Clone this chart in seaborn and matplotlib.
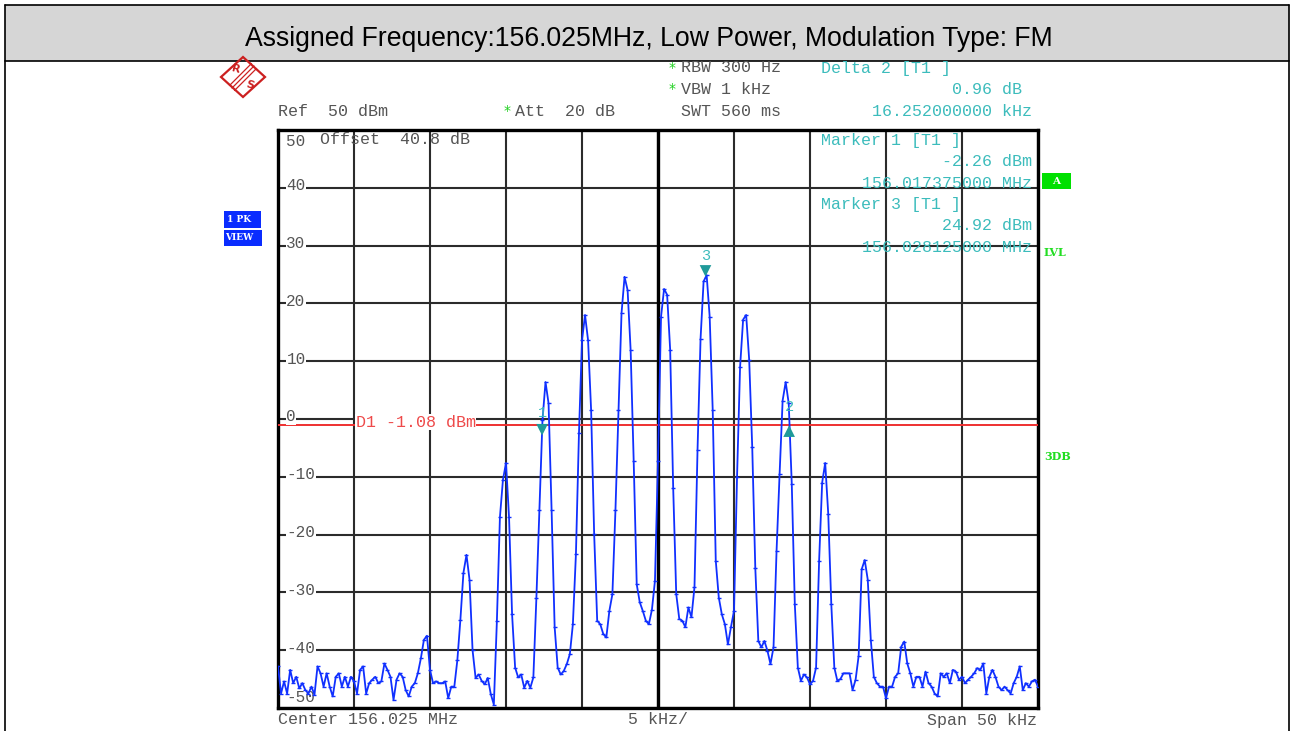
import numpy as np
import pandas as pd
import seaborn as sns
import matplotlib.pyplot as plt
from matplotlib.patches import Polygon, Rectangle

# sweep: 251 points from -25 to +25 kHz around the center
center_mhz = 156.025
span_khz = 50
trace_dbm = [
    -42.8, -47.5, -45.4, -47.5, -43.4, -45.7, -44.6, -46.6, -45.7, -46.9,
    -47.5, -46.3, -47.7, -42.8, -44.0, -46.3, -44.0, -46.3, -48.0, -44.6,
    -44.0, -46.3, -44.6, -46.3, -44.6, -45.4, -47.5, -43.4, -42.8, -47.5,
    -45.7, -45.1, -44.6, -45.7, -45.4, -42.3, -43.4, -44.6, -48.6, -45.1,
    -44.0, -44.6, -46.9, -48.0, -46.3, -45.7, -44.0, -41.4, -38.2, -37.5,
    -43.4, -45.7, -45.4, -45.7, -45.7, -45.4, -48.3, -46.3, -46.3, -41.7,
    -34.7, -26.6, -23.5, -27.8, -40.0, -44.8, -44.2, -45.3, -45.9, -44.8,
    -47.6, -49.4, -35.0, -17.0, -10.5, -7.6, -17.0, -33.8, -43.0, -44.7,
    -44.2, -46.5, -45.3, -46.5, -44.7, -30.9, -15.8, -0.2, 6.4, 2.7,
    -15.8, -36.0, -43.0, -44.2, -43.6, -42.4, -40.7, -35.5, -23.4, -2.5,
    13.6, 18.0, 13.6, 1.5, -19.9, -34.9, -35.5, -37.2, -37.8, -33.2,
    -30.3, -15.8, 1.5, 18.3, 24.6, 22.3, 11.9, -7.2, -28.6, -31.7,
    -33.2, -34.9, -35.5, -33.0, -28.0, -7.2, 17.7, 22.5, 21.5, 12.0,
    -12.0, -30.3, -34.6, -34.9, -36.0, -32.6, -34.3, -29.1, -5.4, 13.9,
    23.8, 24.9, 17.7, 1.5, -24.5, -30.9, -33.8, -35.5, -39.0, -36.0,
    -33.2, -10.0, 9.0, 17.2, 18.0, 10.2, -4.9, -25.7, -38.4, -39.5,
    -38.4, -40.1, -42.4, -39.5, -22.8, -9.5, 3.2, 6.4, 2.7, -11.2,
    -32.0, -43.0, -45.3, -44.2, -44.7, -45.9, -45.3, -43.0, -24.5, -11.0,
    -7.6, -16.4, -32.0, -43.0, -45.3, -45.0, -44.0, -44.0, -44.0, -46.9,
    -45.1, -41.0, -26.0, -24.4, -27.8, -38.2, -44.6, -45.7, -46.3, -46.3,
    -48.3, -46.3, -46.3, -44.6, -44.0, -39.4, -38.5, -42.3, -44.0, -46.3,
    -44.6, -44.6, -46.3, -43.7, -45.7, -46.3, -47.5, -48.0, -44.0, -44.6,
    -44.0, -45.7, -43.4, -43.7, -45.1, -44.6, -45.7, -45.1, -44.6, -44.0,
    -43.1, -43.4, -42.3, -47.5, -44.6, -43.4, -44.6, -46.3, -46.9, -46.3,
    -46.9, -47.5, -45.7, -44.6, -42.8, -46.9, -45.7, -46.3, -45.4, -45.1,
    -46.3,
]
trace_khz = np.linspace(-span_khz / 2, span_khz / 2, len(trace_dbm))

# markers (1 and 3 normal, 2 is delta to 1)
marker_names = ['1', '2', '3']
marker_mhz = [156.017375, 156.017375 + 0.016252, 156.028125]
marker_dbm = [-2.26, -2.26 + 0.96, 24.92]
display_line = -1.08
level_ticks = [40, 30, 20, 10, 0, -10, -20, -30, -40]

title = 'Assigned Frequency:156.025MHz, Low Power, Modulation Type: FM'

sns.set_style('white')
mono = 'Liberation Mono'
grey = '#555555'
teal = '#3cbcbc'
blue = '#1030ff'
W, H = 1294, 731

fig = plt.figure(figsize=(12.94, 7.31), dpi=100)

# background: table frame with grey title band
bg = fig.add_axes([0, 0, 1, 1], zorder=0)
bg.set_xlim(0, W)
bg.set_ylim(H, 0)
bg.axis('off')
bg.add_patch(Rectangle((5, 5), 1284, 56, facecolor='#d6d6d6', edgecolor='none'))
for xs, ys in [([5, 1289], [5, 5]), ([5, 1289], [61, 61]), ([5, 5], [5, H]), ([1289, 1289], [5, H])]:
    bg.plot(xs, ys, color='black', lw=1.2)
bg.text(648.5, 39, title, ha='center', va='center', fontsize=19.2, family='Liberation Sans', color='black')

# main screen
ax = fig.add_axes([278 / W, 1 - 708 / H, 760 / W, 578 / H], zorder=2)
df = pd.DataFrame({'khz': trace_khz, 'dbm': trace_dbm})
sns.lineplot(data=df, x='khz', y='dbm', ax=ax, color=blue, lw=1.3, marker='_',
             markersize=3.5, markeredgewidth=1.0, markeredgecolor=blue, markerfacecolor=blue,
             estimator=None, sort=False, zorder=4)
ax.set_xlim(-span_khz / 2, span_khz / 2)
ax.set_ylim(-50, 50)
ax.set_xticks(np.arange(-25, 26, 5))
ax.set_yticks(np.arange(-50, 51, 10))
ax.tick_params(length=0, labelbottom=False, labelleft=False)
ax.grid(True, color='#2b2b2b', lw=1.5, zorder=1)
ax.axvline(0, color='black', lw=2.4, zorder=2)
for s in ax.spines.values():
    s.set_linewidth(2.4)
    s.set_color('black')

# display line D1
ax.axhline(display_line, color='#ee3030', lw=1.4, zorder=3)
ax.text(-19.9, display_line + 0.55, 'D1 -1.08 dBm', color='#ee4a4a', family=mono, fontsize=12,
        va='center', ha='left', zorder=5,
        bbox=dict(facecolor='white', edgecolor='none', pad=0.5))

# level labels on the grid lines
ytr = ax.get_yaxis_transform()
for v in level_ticks:
    ax.text(0.011, v + 0.35, str(v), transform=ytr, color=grey, family=mono, fontsize=11.5,
            va='center', ha='left', zorder=5,
            bbox=dict(facecolor='white', edgecolor='none', pad=0.3))
ax.text(0.011, 48.0, '50', transform=ytr, color=grey, family=mono, fontsize=11.5, va='center', zorder=5)
ax.text(0.011, -48.1, '-50', transform=ytr, color=grey, family=mono, fontsize=11.5, va='center', zorder=3)
ax.text(-22.25, 48.3, 'Offset  40.8 dB', color=grey, family=mono, fontsize=12, va='center', zorder=5)

# markers: triangle shift (dB) and label offset (pt) as drawn on the screen
tri_shift = [0.4, -0.8, 0.7]
label_off = [12, 17.5, 11]
mk = pd.DataFrame({'khz': [(m - center_mhz) * 1000 for m in marker_mhz],
                   'dbm': [d + s for d, s in zip(marker_dbm, tri_shift)], 'name': marker_names})
sns.scatterplot(data=mk[mk['name'] != '2'], x='khz', y='dbm', ax=ax, marker='v', s=70,
                color='#1f9a9a', edgecolor='none', zorder=6)
sns.scatterplot(data=mk[mk['name'] == '2'], x='khz', y='dbm', ax=ax, marker='^', s=70,
                color='#1f9a9a', edgecolor='none', zorder=6)
for (_, r), off in zip(mk.iterrows(), label_off):
    ax.annotate(r['name'], (r['khz'], r['dbm']), xytext=(0, off), textcoords='offset points',
                ha='center', va='center', color=teal, family=mono, fontsize=11, zorder=6)
ax.set_xlabel('')
ax.set_ylabel('')

# overlay texts in pixel coordinates
ov = fig.add_axes([0, 0, 1, 1], zorder=5)
ov.set_xlim(0, W)
ov.set_ylim(H, 0)
ov.axis('off')
ov.patch.set_alpha(0)

def scr(x, y, s, color=grey, ha='left', size=12):
    ov.text(x, y, s, ha=ha, va='center', color=color, family=mono, fontsize=size)

star_kw = dict(color='#20d020', fontsize=10, ha='center', va='center', family='DejaVu Sans')
ov.text(672, 68, '*', **star_kw)
ov.text(672, 89, '*', **star_kw)
ov.text(507, 111, '*', **star_kw)
scr(681, 68, 'RBW 300 Hz')
scr(681, 89, 'VBW 1 kHz')
scr(681, 111, 'SWT 560 ms')
scr(278, 111, 'Ref  50 dBm')
scr(515, 111, 'Att  20 dB')
scr(821, 68, 'Delta 2 [T1 ]', teal)
scr(1022, 89, '0.96 dB', teal, 'right')
scr(1032, 111, '16.252000000 kHz', teal, 'right')
scr(821, 141, 'Marker 1 [T1 ]', teal)
scr(1032, 162, '-2.26 dBm', teal, 'right')
scr(1032, 184, '156.017375000 MHz', teal, 'right')
scr(821, 205, 'Marker 3 [T1 ]', teal)
scr(1032, 226, '24.92 dBm', teal, 'right')
scr(1032, 248, '156.028125000 MHz', teal, 'right')
scr(278, 720, 'Center 156.025 MHz')
scr(628, 720, '5 kHz/')
scr(1037, 720, 'Span 50 kHz', ha='right')

# side soft-keys
ov.add_patch(Rectangle((224, 211), 37, 17, facecolor='#0a2cff', edgecolor='none'))
ov.add_patch(Rectangle((224, 230), 38, 16, facecolor='#0a2cff', edgecolor='none'))
ov.text(227, 219.5, '1 PK', color='white', fontsize=6.5, weight='bold', family='DejaVu Serif', va='center')
ov.text(225, 238, 'VIEW', color='white', fontsize=6.5, weight='bold', family='DejaVu Serif', va='center')
ov.add_patch(Rectangle((1042, 173), 29, 16, facecolor='#00e000', edgecolor='none'))
ov.text(1056, 181, 'A', color='white', fontsize=7.5, weight='bold', family='DejaVu Serif', ha='center', va='center')
ov.text(1044, 253, 'LVL', color='#22dd22', fontsize=8, weight='bold', family='DejaVu Serif', va='center')
ov.text(1044, 456, '3DB', color='#22dd22', fontsize=8, weight='bold', family='DejaVu Serif', va='center')

# R&S logo
red = '#cc2020'
ov.add_patch(Polygon([(243, 57), (265, 77), (243, 97), (221, 77)], closed=True, fill=False, edgecolor=red, lw=1.6))
for d in (-2.5, 0, 2.5):
    ov.plot([254 + d, 232 + d], [66 + d, 88 + d], color=red, lw=0.9)
ov.text(236, 69, 'R', color=red, fontsize=8, weight='bold', ha='center', va='center', rotation=-15)
ov.text(250, 85, 'S', color=red, fontsize=8, weight='bold', ha='center', va='center', rotation=-15)

fig.savefig('out.png', dpi=100)
